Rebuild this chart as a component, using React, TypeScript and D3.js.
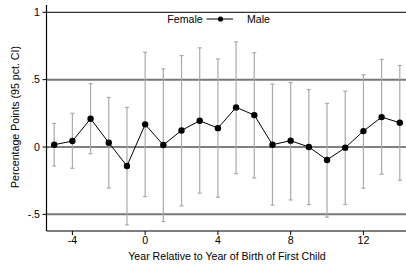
import React from "react";
import * as d3 from "d3";

const years = [-5, -4, -3, -2, -1, 0, 1, 2, 3, 4, 5, 6, 7, 8, 9, 10, 11, 12, 13, 14];
const estimates = [0.017, 0.044, 0.21, 0.032, -0.141, 0.168, 0.015, 0.123, 0.195, 0.14, 0.294, 0.237, 0.017, 0.047, 0.0, -0.096, -0.005, 0.118, 0.222, 0.18];
const upper = [0.175, 0.25, 0.47, 0.368, 0.294, 0.704, 0.58, 0.679, 0.736, 0.654, 0.78, 0.7, 0.467, 0.479, 0.427, 0.323, 0.415, 0.536, 0.65, 0.605];
const lower = [-0.141, -0.158, -0.05, -0.304, -0.578, -0.368, -0.553, -0.437, -0.343, -0.373, -0.198, -0.23, -0.432, -0.393, -0.427, -0.521, -0.427, -0.306, -0.202, -0.247];
const xTicks = [-4, 0, 4, 8, 12];
const yTicks = [-0.5, 0, 0.5, 1];
const yTickLabels = ["-.5", "0", ".5", "1"];

export default function App() {
  const W = 406, H = 266;
  const left = 46.5, right = 406, top = 5, bottom = 231;
  const x = d3.scaleLinear().domain([-5, 14]).range([54.2, 399.8]);
  const y = d3.scaleLinear().domain([0, 1]).range([147, 12.3]);
  const line = d3.line<number>().x((_, i) => x(years[i])).y((d) => y(d));
  const font = "Liberation Sans, Arial, sans-serif";
  const fs = 10.6;
  return (
    <svg width={W} height={H} style={{ position: "absolute", left: 0, top: 0 }}>
      <rect width={W} height={H} fill="#fff" />
      {yTicks.map((t) => (
        <line key={t} x1={left} x2={right} y1={y(t)} y2={y(t)}
          stroke={t === 0 || t === 1 ? "#000" : "#777"} strokeWidth={t === 0 || t === 1 ? 1 : 2} />
      ))}
      {years.map((yr, i) => (
        <g key={yr} stroke="#aaa" strokeWidth={1.2}>
          <line x1={x(yr)} x2={x(yr)} y1={y(upper[i])} y2={y(lower[i])} />
          <line x1={x(yr) - 2} x2={x(yr) + 2} y1={y(upper[i])} y2={y(upper[i])} />
          <line x1={x(yr) - 2} x2={x(yr) + 2} y1={y(lower[i])} y2={y(lower[i])} />
        </g>
      ))}
      <path d={line(estimates) || ""} fill="none" stroke="#000" strokeWidth={1} />
      {years.map((yr, i) => (
        <circle key={yr} cx={x(yr)} cy={y(estimates[i])} r={3.2} fill="#000" />
      ))}
      <line x1={left} x2={left} y1={top} y2={bottom} stroke="#000" strokeWidth={1.2} />
      <line x1={left} x2={right} y1={bottom} y2={bottom} stroke="#000" strokeWidth={1.2} />
      {yTicks.map((t, i) => (
        <g key={t}>
          <line x1={left - 4} x2={left} y1={y(t)} y2={y(t)} stroke="#000" />
          <text x={40} y={y(t)} dy="0.35em" textAnchor="end" fontFamily={font} fontSize={fs}>{yTickLabels[i]}</text>
        </g>
      ))}
      {xTicks.map((t) => (
        <g key={t}>
          <line x1={x(t)} x2={x(t)} y1={bottom} y2={bottom + 4} stroke="#000" />
          <text x={x(t)} y={243.5} textAnchor="middle" fontFamily={font} fontSize={fs}>{t}</text>
        </g>
      ))}
      <text x={227} y={259.5} textAnchor="middle" fontFamily={font} fontSize={fs}>Year Relative to Year of Birth of First Child</text>
      <text transform={`translate(19,117) rotate(-90)`} textAnchor="middle" fontFamily={font} fontSize={fs}>Percentage Points (95 pct. CI)</text>
      <text x={185} y={22.5} textAnchor="middle" fontFamily={font} fontSize={fs}>Female</text>
      <line x1={206.5} x2={233} y1={19} y2={19} stroke="#000" />
      <circle cx={220.5} cy={19} r={2.6} fill="#000" />
      <text x={247} y={22.5} fontFamily={font} fontSize={fs}>Male</text>
    </svg>
  );
}
